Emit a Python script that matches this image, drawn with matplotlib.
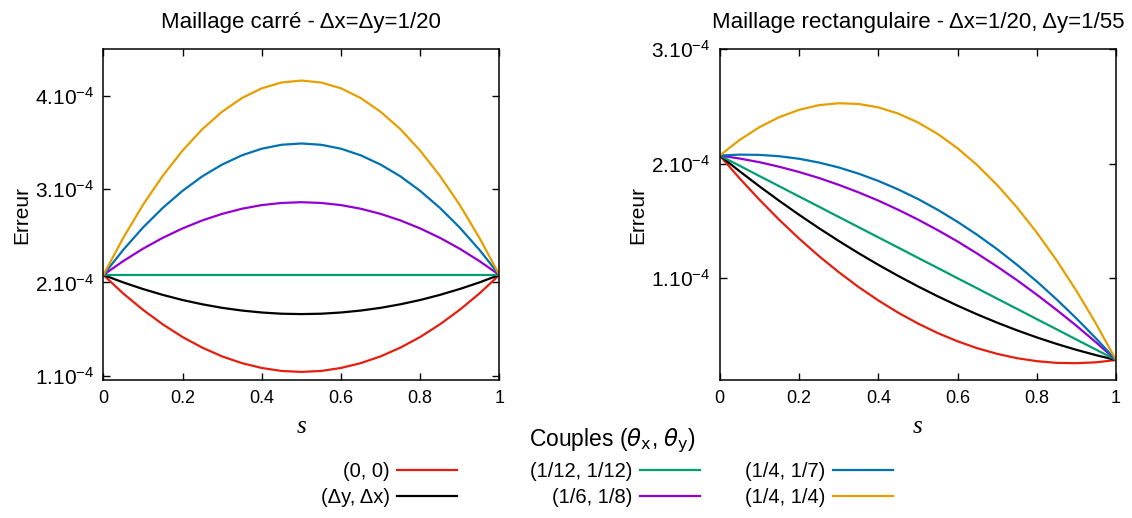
import numpy as np
import matplotlib
matplotlib.use("Agg")
import matplotlib.pyplot as plt

plt.rcParams['font.family'] = ['Liberation Sans', 'DejaVu Sans']
plt.rcParams['mathtext.default'] = 'regular'

# abscisse s
s = [0.00, 0.05, 0.10, 0.15, 0.20, 0.25, 0.30, 0.35, 0.40, 0.45, 0.50,
     0.55, 0.60, 0.65, 0.70, 0.75, 0.80, 0.85, 0.90, 0.95, 1.00]

labels = ['(0, 0)', '(Δy, Δx)', '(1/12, 1/12)', '(1/6, 1/8)', '(1/4, 1/7)', '(1/4, 1/4)']
colors = ['#e51e10', 'black', '#009e73', '#9400d3', '#0072b2', '#e69f00']

# erreurs (en 1e-4) - maillage carre
carre_00 = [2.080, 1.882, 1.706, 1.550, 1.414, 1.300, 1.206, 1.134, 1.082, 1.050, 1.040,
            1.050, 1.082, 1.134, 1.206, 1.300, 1.414, 1.550, 1.706, 1.882, 2.080]
carre_dydx = [2.080, 2.000, 1.929, 1.866, 1.811, 1.765, 1.727, 1.698, 1.677, 1.664, 1.660,
              1.664, 1.677, 1.698, 1.727, 1.765, 1.811, 1.866, 1.929, 2.000, 2.080]
carre_12_12 = [2.080, 2.080, 2.080, 2.080, 2.080, 2.080, 2.080, 2.080, 2.080, 2.080, 2.080,
               2.080, 2.080, 2.080, 2.080, 2.080, 2.080, 2.080, 2.080, 2.080, 2.080]
carre_6_8 = [2.080, 2.228, 2.361, 2.478, 2.579, 2.665, 2.735, 2.790, 2.829, 2.852, 2.860,
             2.852, 2.829, 2.790, 2.735, 2.665, 2.579, 2.478, 2.361, 2.228, 2.080]
carre_4_7 = [2.080, 2.348, 2.588, 2.799, 2.982, 3.138, 3.264, 3.363, 3.434, 3.476, 3.490,
             3.476, 3.434, 3.363, 3.264, 3.138, 2.982, 2.799, 2.588, 2.348, 2.080]
carre_4_4 = [2.080, 2.476, 2.831, 3.143, 3.414, 3.644, 3.831, 3.977, 4.082, 4.144, 4.165,
             4.144, 4.082, 3.977, 3.831, 3.644, 3.414, 3.143, 2.831, 2.476, 2.080]

# erreurs (en 1e-4) - maillage rectangulaire
rect_00 = [2.070, 1.871, 1.684, 1.508, 1.344, 1.191, 1.050, 0.920, 0.802, 0.695, 0.600,
           0.516, 0.444, 0.383, 0.334, 0.296, 0.270, 0.255, 0.252, 0.260, 0.280]
rect_dydx = [2.070, 1.933, 1.801, 1.674, 1.552, 1.435, 1.323, 1.216, 1.114, 1.017, 0.925,
             0.838, 0.756, 0.679, 0.607, 0.540, 0.478, 0.421, 0.369, 0.322, 0.280]
rect_12_12 = [2.070, 1.981, 1.891, 1.802, 1.712, 1.623, 1.533, 1.444, 1.354, 1.265, 1.175,
              1.086, 0.996, 0.907, 0.817, 0.728, 0.638, 0.549, 0.459, 0.370, 0.280]
rect_6_8 = [2.070, 2.044, 2.012, 1.972, 1.926, 1.874, 1.814, 1.748, 1.676, 1.596, 1.510,
            1.417, 1.318, 1.211, 1.098, 0.979, 0.852, 0.719, 0.580, 0.433, 0.280]
rect_4_7 = [2.070, 2.078, 2.076, 2.064, 2.042, 2.009, 1.966, 1.912, 1.848, 1.774, 1.690,
            1.595, 1.490, 1.375, 1.250, 1.114, 0.968, 0.811, 0.644, 0.467, 0.280]
rect_4_4 = [2.070, 2.206, 2.318, 2.406, 2.470, 2.511, 2.528, 2.522, 2.492, 2.438, 2.360,
            2.259, 2.134, 1.985, 1.812, 1.616, 1.396, 1.153, 0.886, 0.595, 0.280]

carre = [carre_00, carre_dydx, carre_12_12, carre_6_8, carre_4_7, carre_4_4]
rect = [rect_00, rect_dydx, rect_12_12, rect_6_8, rect_4_7, rect_4_4]

xticks = [0, 0.2, 0.4, 0.6, 0.8, 1]
xticklabels = ['0', '0.2', '0.4', '0.6', '0.8', '1']

fig = plt.figure(figsize=(11.32, 5.18), dpi=100)
ax1 = fig.add_axes([0.0913, 0.2664, 0.3498, 0.6384])
ax2 = fig.add_axes([0.6358, 0.2664, 0.3501, 0.6384])

lines = []
for ax, data, title, yt, ylim in [
        (ax1, carre, 'Maillage carré - Δx=Δy=1/20', [1, 2, 3, 4], (0.953, 4.50)),
        (ax2, rect, 'Maillage rectangulaire - Δx=1/20, Δy=1/55', [1, 2, 3], (0.105, 3.0))]:
    lines = []
    for vals, c, lab in zip(data, colors, labels):
        l, = ax.plot(s, np.array(vals) * 1e-4, color=c, lw=1.6, label=lab)
        lines.append(l)
    ax.set_xlim(0, 1)
    ax.set_ylim(ylim[0] * 1e-4, ylim[1] * 1e-4)
    ax.set_xticks(xticks, xticklabels)
    ax.set_yticks([v * 1e-4 for v in yt], ['$%d.10^{-4}$' % v for v in yt])
    ax.tick_params(direction='in', length=5, width=1, top=True, right=True,
                   labelsize=13, pad=7)
    ax.tick_params(axis='y', labelsize=15)
    for sp in ax.spines.values():
        sp.set_linewidth(1.1)
    ax.set_title(title, fontsize=16, pad=15)
    ax.set_xlabel('s', fontsize=18, family='Liberation Serif', style='italic', labelpad=7)
    ax.set_ylabel('Erreur', fontsize=15)
    ax.yaxis.set_label_coords(-0.183, 0.5)

fig.text(612 / 1132, 1 - 441 / 518,
         r'Couples ($\mathit{\theta}_{\mathrm{x}}$, $\mathit{\theta}_{\mathrm{y}}$)',
         ha='center', va='center', fontsize=16.5)

# legende en 3 colonnes, texte puis trait
col_ends = [457, 700, 893]
for k in range(3):
    leg = fig.legend(lines[2 * k:2 * k + 2], labels[2 * k:2 * k + 2], loc='upper right',
                     bbox_to_anchor=(col_ends[k] / 1132, 1 - 462 / 518),
                     frameon=False, markerfirst=False, fontsize=14.5, borderpad=0,
                     borderaxespad=0, handlelength=3.0, handletextpad=0.35,
                     labelspacing=0.35)

fig.savefig('out.png', dpi=100)
